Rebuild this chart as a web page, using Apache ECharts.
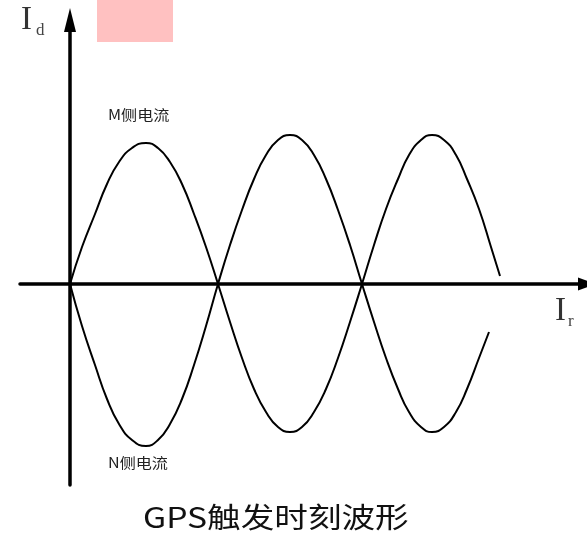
<!DOCTYPE html>
<html>
<head>
<meta charset="utf-8">
<script src="https://cdn.jsdelivr.net/npm/echarts@6/dist/echarts.min.js"></script>
<style>
  html, body { margin: 0; padding: 0; background: #fff; }
  #chart { width: 587px; height: 540px; }
</style>
</head>
<body>
<div id="chart"></div>
<script>
// Puntos (x: desplazamiento desde el origen, y: amplitud)
const mSide = [
  [0, 0], [12, 37], [25, 70], [37, 100], [49, 122], [62, 136], [76, 141], [88, 136], [100, 122], [112, 100], [124, 70], [136, 37], [148, 0],
  [160, -38], [172, -74], [184, -105], [196, -128], [208, -143], [220, -148], [232, -143], [244, -128], [256, -105], [268, -74], [280, -38], [292, 0],
  [304, 39], [316, 75], [328, 105], [339, 129], [351, 144], [362, 149], [374, 144], [386, 129], [397, 105], [409, 75], [421, 37], [430, 8]
];
const nSide = [
  [0, 0], [12, -42], [25, -81], [37, -115], [49, -140], [62, -156], [76, -162], [88, -156], [100, -140], [112, -115], [124, -81], [136, -42], [148, 0],
  [160, 39], [172, 74], [184, 105], [196, 129], [208, 144], [220, 149], [232, 144], [244, 129], [256, 105], [268, 74], [280, 39], [292, 0],
  [304, -38], [316, -74], [328, -105], [339, -128], [351, -143], [362, -148], [374, -143], [386, -128], [397, -105], [409, -74], [419, -48]
];
const seriesNames = ['M侧电流', 'N侧电流'];
const titleText = 'GPS触发时刻波形';

const chart = echarts.init(document.getElementById('chart'));
const cjk = '"Noto Sans CJK SC", sans-serif';

const option = {
  backgroundColor: '#fff',
  animation: false,
  grid: { left: 20, right: 0, top: 20, bottom: 55 },
  xAxis: {
    type: 'value', min: -50, max: 517,
    axisLine: { onZero: true, lineStyle: { color: '#000', width: 3.5 }, symbol: ['none', 'triangle'], symbolSize: [13, 18] },
    axisTick: { show: false }, axisLabel: { show: false }, splitLine: { show: false }
  },
  yAxis: {
    type: 'value', min: -201, max: 264,
    axisLine: { onZero: true, lineStyle: { color: '#000', width: 3.5 }, symbol: ['none', 'triangle'], symbolSize: [12, 24] },
    axisTick: { show: false }, axisLabel: { show: false }, splitLine: { show: false }
  },
  series: [
    { name: seriesNames[0], type: 'line', data: mSide, smooth: true, showSymbol: false, lineStyle: { color: '#000', width: 2 } },
    { name: seriesNames[1], type: 'line', data: nSide, smooth: true, showSymbol: false, lineStyle: { color: '#000', width: 2 } }
  ],
  graphic: [
    // rectángulo rosa de arriba
    { type: 'rect', left: 97, top: 0, shape: { width: 76, height: 42 }, style: { fill: '#ffc1c1' } },
    // etiquetas de los ejes
    { type: 'text', x: 21, y: 37, style: { text: 'I', font: '33px "Liberation Serif"', fill: '#333', textVerticalAlign: 'bottom' } },
    { type: 'text', x: 36, y: 39, style: { text: 'd', font: '17px "Liberation Serif"', fill: '#444', textVerticalAlign: 'bottom' } },
    { type: 'text', x: 555, y: 328, style: { text: 'I', font: '33px "Liberation Serif"', fill: '#333', textVerticalAlign: 'bottom' } },
    { type: 'text', x: 568, y: 330, style: { text: 'r', font: '17px "Liberation Serif"', fill: '#444', textVerticalAlign: 'bottom' } },
    // nombres de las curvas
    { type: 'text', x: 108, y: 115, scaleX: 1.15, style: { text: seriesNames[0], font: '14px ' + cjk, fill: '#222', textVerticalAlign: 'middle' } },
    { type: 'text', x: 108, y: 463, scaleX: 1.15, style: { text: seriesNames[1], font: '14px ' + cjk, fill: '#222', textVerticalAlign: 'middle' } },
    // título inferior
    { type: 'text', x: 143, y: 517, scaleX: 1.2, style: { text: titleText, font: '28px ' + cjk, fill: '#111', textVerticalAlign: 'middle' } }
  ]
};

chart.setOption(option);
</script>
</body>
</html>
